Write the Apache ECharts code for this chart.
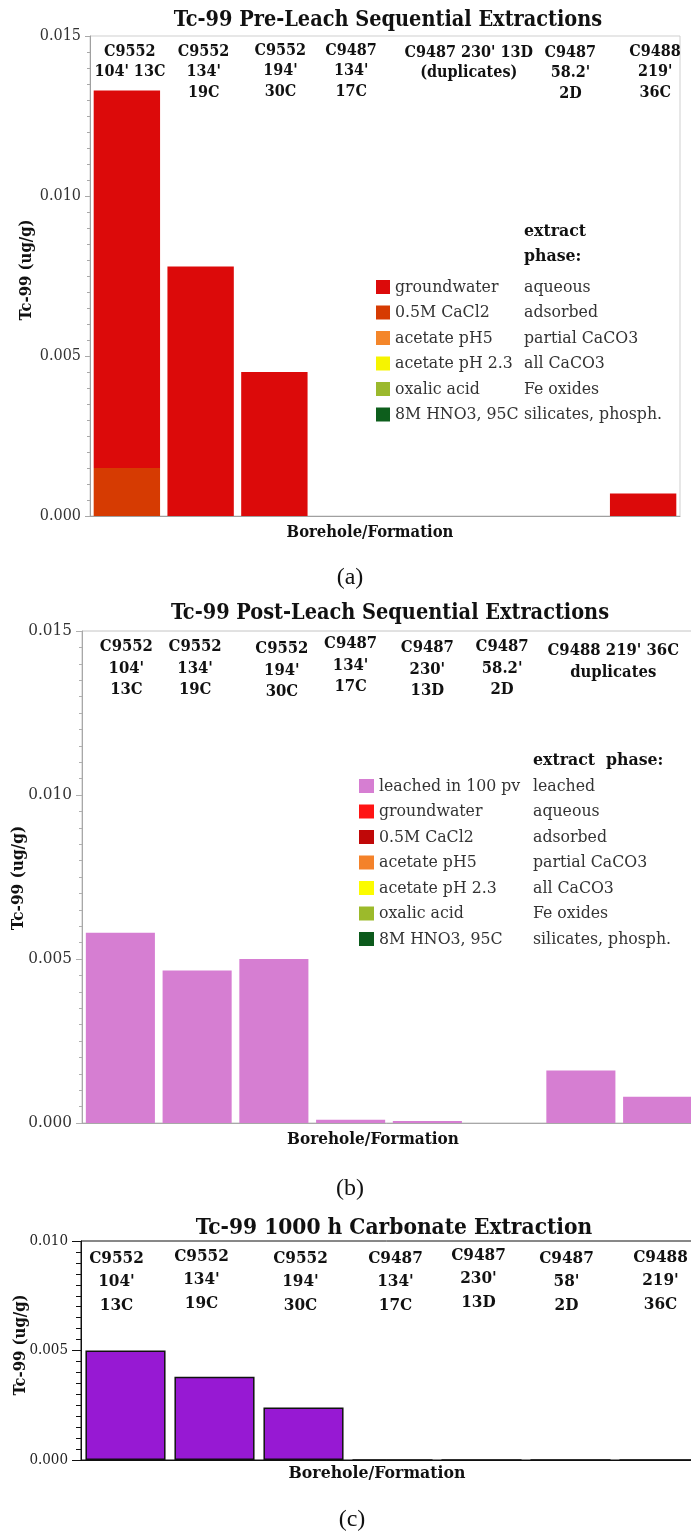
<!DOCTYPE html>
<html>
<head>
<meta charset="utf-8">
<script src="https://cdn.jsdelivr.net/npm/echarts@6/dist/echarts.min.js"></script>
<style>
  html, body { margin: 0; padding: 0; background: #ffffff; }
  #main { width: 691px; height: 1537px; }
</style>
</head>
<body>
<div id="main"></div>
<script>
// ---------- (a) Tc-99 pre-leach sequential extractions (ug/g) ----------
const preSlots = ["C9552 104' 13C", "C9552 134' 19C", "C9552 194' 30C", "C9487 134' 17C",
                  "C9487 230' 13D #1", "C9487 230' 13D #2", "C9487 58.2' 2D", "C9488 219' 36C"];
const preGroundwater = [0.0118, 0.0078, 0.0045, 0, 0, 0, 0, 0.0007];
const preCaCl2       = [0.0015, 0, 0, 0, 0, 0, 0, 0];
const preAcetate5    = [0, 0, 0, 0, 0, 0, 0, 0];
const preAcetate23   = [0, 0, 0, 0, 0, 0, 0, 0];
const preOxalic      = [0, 0, 0, 0, 0, 0, 0, 0];
const preHNO3        = [0, 0, 0, 0, 0, 0, 0, 0];
const preHeaders = ["C9552\n104' 13C", "C9552\n134'\n19C", "C9552\n194'\n30C", "C9487\n134'\n17C",
                    "C9487 230' 13D\n(duplicates)", "C9487\n58.2'\n2D", "C9488\n219'\n36C"];
const preHeaderSpan = [[0, 0], [1, 1], [2, 2], [3, 3], [4, 5], [6, 6], [7, 7]];

// ---------- (b) Tc-99 post-leach sequential extractions (ug/g) ----------
const postSlots = ["C9552 104' 13C", "C9552 134' 19C", "C9552 194' 30C", "C9487 134' 17C",
                   "C9487 230' 13D", "C9487 58.2' 2D", "C9488 219' 36C #1", "C9488 219' 36C #2"];
const postLeached     = [0.0058, 0.00465, 0.0050, 0.0001, 0.00006, 0, 0.0016, 0.0008];
const postGroundwater = [0, 0, 0, 0, 0, 0, 0, 0];
const postCaCl2       = [0, 0, 0, 0, 0, 0, 0, 0];
const postAcetate5    = [0, 0, 0, 0, 0, 0, 0, 0];
const postAcetate23   = [0, 0, 0, 0, 0, 0, 0, 0];
const postOxalic      = [0, 0, 0, 0, 0, 0, 0, 0];
const postHNO3        = [0, 0, 0, 0, 0, 0, 0, 0];
const postHeaders = ["C9552\n104'\n13C", "C9552\n134'\n19C", "C9552\n194'\n30C", "C9487\n134'\n17C",
                     "C9487\n230'\n13D", "C9487\n58.2'\n2D", "C9488 219' 36C\nduplicates"];
const postHeaderSpan = [[0, 0], [1, 1], [2, 2], [3, 3], [4, 4], [5, 5], [6, 7]];

// ---------- (c) Tc-99 1000 h carbonate extraction (ug/g) ----------
const carbSlots = ["C9552 104' 13C", "C9552 134' 19C", "C9552 194' 30C", "C9487 134' 17C",
                   "C9487 230' 13D", "C9487 58' 2D", "C9488 219' 36C"];
const carbValues = [0.0050, 0.0038, 0.0024, 0, 0, 0, 0];
const carbHeaders = ["C9552\n104'\n13C", "C9552\n134'\n19C", "C9552\n194'\n30C", "C9487\n134'\n17C",
                     "C9487\n230'\n13D", "C9487\n58'\n2D", "C9488\n219'\n36C"];
const carbHeaderSpan = [[0, 0], [1, 1], [2, 2], [3, 3], [4, 4], [5, 5], [6, 6]];

// extraction step -> phase it targets
const legendNames = ['groundwater', '0.5M CaCl2', 'acetate pH5', 'acetate pH 2.3', 'oxalic acid', '8M HNO3, 95C'];
const phaseOf = {
  'leached in 100 pv': 'leached',
  'groundwater': 'aqueous',
  '0.5M CaCl2': 'adsorbed',
  'acetate pH5': 'partial CaCO3',
  'acetate pH 2.3': 'all CaCO3',
  'oxalic acid': 'Fe oxides',
  '8M HNO3, 95C': 'silicates, phosph.'
};

// ---------- styling ----------
const FONT = "'DejaVu Serif Condensed','DejaVu Serif',serif";
const CAPFONT = "'Liberation Serif','Times New Roman',serif";
const colorsA = { gw: '#dc0a0a', ca: '#d63b02', ac5: '#f4862a', ac23: '#f6f400', ox: '#9bb92d', hno3: '#0d5e1c' };
const colorsB = { le: '#d67ed2', gw: '#ff1414', ca: '#c00808', ac5: '#f4822a', ac23: '#fcfc00', ox: '#9cba2b', hno3: '#0c5a1c' };
const colorC = '#9719d3';

const chart = echarts.init(document.getElementById('main'), null, { renderer: 'canvas' });

function valueAxis(gridIndex, max, lineColor, tickColor, labelColor, labelSize, majorLen, minorLen) {
  return {
    type: 'value', gridIndex, min: 0, max, interval: 0.005,
    axisLine: { show: true, lineStyle: { color: lineColor, width: 1 } },
    axisTick: { show: true, length: majorLen, lineStyle: { color: tickColor } },
    minorTick: { show: true, splitNumber: 10, length: minorLen, lineStyle: { color: tickColor } },
    splitLine: { show: false },
    axisLabel: { margin: majorLen + 4, color: labelColor, fontFamily: FONT, fontSize: labelSize,
                 formatter: v => v.toFixed(3) }
  };
}
function catAxis(gridIndex, data, lineColor) {
  return {
    type: 'category', gridIndex, data, boundaryGap: true,
    axisLine: { show: true, lineStyle: { color: lineColor } },
    axisTick: { show: false }, axisLabel: { show: false }
  };
}
function stackBar(name, data, color, idx, stack) {
  return { type: 'bar', name, data, stack, xAxisIndex: idx, yAxisIndex: idx,
           barCategoryGap: '10%', itemStyle: { color }, emphasis: { disabled: true } };
}
function legendFor(left, top, iw, names, colorList, colA, colB, size) {
  return {
    orient: 'vertical', left, top, itemWidth: iw, itemHeight: 14, itemGap: 7.5,
    icon: 'rect', selectedMode: false,
    data: names.map((n, i) => ({ name: n, itemStyle: { color: colorList[i] } })),
    formatter: n => `{a|${n}}{b|${phaseOf[n]}}`,
    textStyle: {
      fontFamily: FONT, fontSize: size, color: '#333', lineHeight: 14,
      rich: {
        a: { width: colA, fontFamily: FONT, fontSize: size, color: '#333' },
        b: { width: colB, fontFamily: FONT, fontSize: size, color: '#333' }
      }
    }
  };
}

const option = {
  animation: false,
  backgroundColor: '#ffffff',
  grid: [
    { left: 90, top: 36, width: 590, height: 480, outerBoundsMode: 'none',
      show: true, borderColor: '#cfcfcf', borderWidth: 1, backgroundColor: 'transparent' },
    { left: 82, top: 631, width: 614, height: 492, outerBoundsMode: 'none',
      show: true, borderColor: '#c4c4c4', borderWidth: 1, backgroundColor: 'transparent' },
    { left: 81, top: 1241, width: 623, height: 219, outerBoundsMode: 'none',
      show: true, borderColor: '#111111', borderWidth: 1, backgroundColor: 'transparent' }
  ],
  xAxis: [
    catAxis(0, preSlots, '#a0a0a0'),
    catAxis(1, postSlots, '#a8a8a8'),
    catAxis(2, carbSlots, '#111111')
  ],
  yAxis: [
    valueAxis(0, 0.015, '#a0a0a0', '#a8a8a8', '#333333', 16, 5, 3),
    valueAxis(1, 0.015, '#a8a8a8', '#b0b0b0', '#333333', 17, 6, 3),
    valueAxis(2, 0.010, '#111111', '#111111', '#222222', 15, 9, 5)
  ],
  legend: [
    legendFor(371, 273, 14, legendNames,
      [colorsA.gw, colorsA.ca, colorsA.ac5, colorsA.ac23, colorsA.ox, colorsA.hno3], 129, 140, 17.5),
    legendFor(354, 772, 15, ['leached in 100 pv'].concat(legendNames),
      [colorsB.le, colorsB.gw, colorsB.ca, colorsB.ac5, colorsB.ac23, colorsB.ox, colorsB.hno3], 154, 140, 17.5)
  ],
  series: [
    // (a): adsorbed fraction sits at the base of the stack
    stackBar('0.5M CaCl2', preCaCl2, colorsA.ca, 0, 'pre'),
    stackBar('groundwater', preGroundwater, colorsA.gw, 0, 'pre'),
    stackBar('acetate pH5', preAcetate5, colorsA.ac5, 0, 'pre'),
    stackBar('acetate pH 2.3', preAcetate23, colorsA.ac23, 0, 'pre'),
    stackBar('oxalic acid', preOxalic, colorsA.ox, 0, 'pre'),
    stackBar('8M HNO3, 95C', preHNO3, colorsA.hno3, 0, 'pre'),
    // (b)
    stackBar('leached in 100 pv', postLeached, colorsB.le, 1, 'post'),
    stackBar('groundwater', postGroundwater, colorsB.gw, 1, 'post'),
    stackBar('0.5M CaCl2', postCaCl2, colorsB.ca, 1, 'post'),
    stackBar('acetate pH5', postAcetate5, colorsB.ac5, 1, 'post'),
    stackBar('acetate pH 2.3', postAcetate23, colorsB.ac23, 1, 'post'),
    stackBar('oxalic acid', postOxalic, colorsB.ox, 1, 'post'),
    stackBar('8M HNO3, 95C', postHNO3, colorsB.hno3, 1, 'post'),
    // (c)
    { type: 'bar', name: '1000 h carbonate', data: carbValues, xAxisIndex: 2, yAxisIndex: 2,
      barCategoryGap: '10%', itemStyle: { color: colorC, borderColor: '#111111', borderWidth: 1.5 },
      emphasis: { disabled: true } }
  ]
};
chart.setOption(option);

// ---------- text: titles, column headers, axis names, captions ----------
function txt(x, y, text, size, weight, extra) {
  return Object.assign({
    type: 'text', x, y, silent: true,
    style: Object.assign({ text, fontFamily: FONT, fontSize: size, fontWeight: weight, fill: '#111',
                           align: 'center', verticalAlign: 'middle' }, (extra && extra.style) || {})
  }, extra && extra.rotation !== undefined ? { rotation: extra.rotation } : {});
}
function headers(list, spans, axisIdx, top, lh, size, nudge) {
  return list.map((t, i) => {
    const x0 = chart.convertToPixel({ xAxisIndex: axisIdx }, spans[i][0]);
    const x1 = chart.convertToPixel({ xAxisIndex: axisIdx }, spans[i][1]);
    const n = nudge[i] || [0, 0];
    return txt((x0 + x1) / 2 + n[0], top + n[1], t, size, 'bold',
               { style: { verticalAlign: 'top', lineHeight: lh } });
  });
}
// small hand offsets of the header blocks relative to their slot centres
const nudgeA = [[3, 0], [3, 0], [6, -1], [3, -1], [10, 1], [1, 1], [12, 0]];
const nudgeB = [[6, 0], [-2, 0], [8, 2], [0, -3], [0, 1], [-2, 0], [-6, 4]];
const nudgeC = [[-9, 0], [-13, -2], [-3, 0], [3, 0], [-3, -3], [-4, 0], [1, -1]];

const elements = [
  // titles
  txt(388, 20, 'Tc-99 Pre-Leach Sequential Extractions', 21.5, 'bold'),
  txt(390, 613, 'Tc-99 Post-Leach Sequential Extractions', 21.5, 'bold'),
  txt(394, 1228, 'Tc-99 1000 h Carbonate Extraction', 22.5, 'bold'),
  // y-axis names
  txt(27, 270, 'Tc-99 (ug/g)', 16.5, 'bold', { rotation: Math.PI / 2 }),
  txt(19, 878, 'Tc-99 (ug/g)', 17, 'bold', { rotation: Math.PI / 2 }),
  txt(21, 1345, 'Tc-99 (ug/g)', 16.5, 'bold', { rotation: Math.PI / 2 }),
  // x-axis names
  txt(370, 533, 'Borehole/Formation', 16.5, 'bold'),
  txt(373, 1140, 'Borehole/Formation', 17, 'bold'),
  txt(377, 1473, 'Borehole/Formation', 17.5, 'bold'),
  // legend column headers
  txt(524, 219, 'extract\nphase:', 17.5, 'bold', { style: { align: 'left', verticalAlign: 'top', lineHeight: 25 } }),
  txt(533, 760, 'extract  phase:', 17.5, 'bold', { style: { align: 'left' } }),
  // panel captions
  txt(350, 578, '(a)', 24, 'normal', { style: { fontFamily: CAPFONT } }),
  txt(350, 1189, '(b)', 24, 'normal', { style: { fontFamily: CAPFONT } }),
  txt(352, 1520, '(c)', 24, 'normal', { style: { fontFamily: CAPFONT } })
].concat(
  headers(preHeaders, preHeaderSpan, 0, 41.5, 20.5, 16, nudgeA),
  headers(postHeaders, postHeaderSpan, 1, 636, 21.5, 16.5, nudgeB),
  headers(carbHeaders, carbHeaderSpan, 2, 1246.5, 23.5, 17, nudgeC)
);

chart.setOption({ graphic: { elements } });
</script>
</body>
</html>
